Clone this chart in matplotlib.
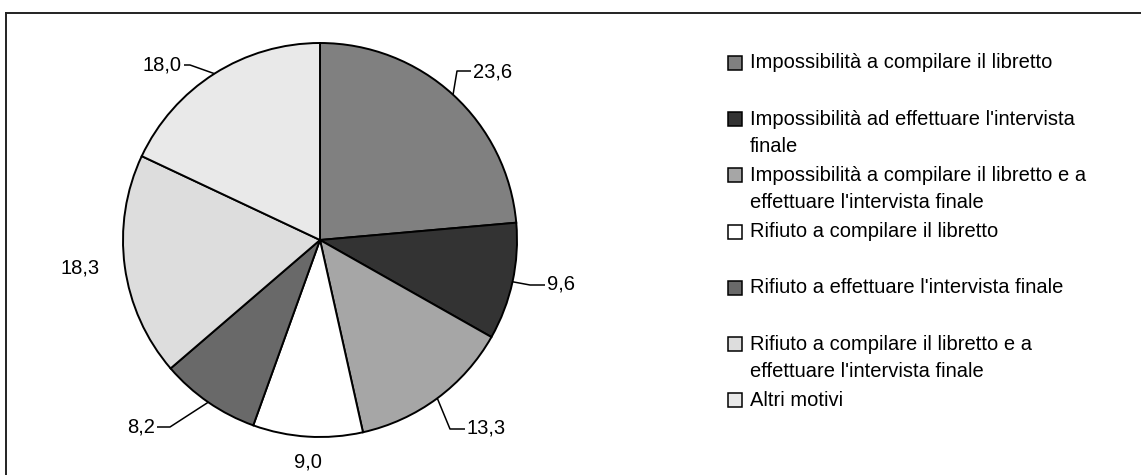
import numpy as np
import matplotlib
matplotlib.use("Agg")
import matplotlib.pyplot as plt
from matplotlib.patches import Rectangle
from matplotlib.lines import Line2D

# ---- data ----
categories = [
    "Impossibilità a compilare il libretto",
    "Impossibilità ad effettuare l'intervista\nfinale",
    "Impossibilità a compilare il libretto e a\neffettuare l'intervista finale",
    "Rifiuto a compilare il libretto",
    "Rifiuto a effettuare l'intervista finale",
    "Rifiuto a compilare il libretto e a\neffettuare l'intervista finale",
    "Altri motivi",
]
values = [23.6, 9.6, 13.3, 9.0, 8.2, 18.3, 18.0]
colors = ["#808080", "#333333", "#A6A6A6", "#FFFFFF", "#696969", "#DDDDDD", "#E9E9E9"]

# ---- layout (pixel space, y downwards) ----
W, H = 1141, 475
CX, CY, R = 320, 240, 197
# label text anchor (x, y, ha) and optional elbow point for the leader line
label_layout = [
    (473, 72, "left", (457, 71)),
    (547, 284, "left", (530, 285)),
    (467, 428, "left", (450, 429)),
    (308, 462, "center", None),
    (155, 427, "right", (170, 427)),
    (100, 268, "right", None),
    (182, 65, "right", (190, 65)),
]
FS = 14.5

plt.rcParams["font.family"] = ["Liberation Sans", "DejaVu Sans"]
fig = plt.figure(figsize=(W / 100, H / 100), dpi=100)
ax = fig.add_axes([0, 0, 1, 1])

def Y(y):
    return H - y

wedges, _ = ax.pie(values, colors=colors, startangle=90, counterclock=False,
                   center=(CX, Y(CY)), radius=R,
                   wedgeprops=dict(edgecolor="black", linewidth=1.4))
ax.set_xlim(0, W)
ax.set_ylim(0, H)
ax.set_aspect("equal")
ax.axis("off")

# data labels with leader lines
for w, v, (tx, ty, ha, elbow) in zip(wedges, values, label_layout):
    mid = np.deg2rad((w.theta1 + w.theta2) / 2)
    ex = CX + R * np.cos(mid)
    ey = Y(CY) + R * np.sin(mid)
    txt = f"{v:.1f}".replace(".", ",")
    ax.text(tx, Y(ty), txt, ha=ha, va="center", fontsize=FS, color="black")
    if elbow is not None:
        endx = tx - 2 if ha == "left" else tx + 2
        ax.plot([ex, elbow[0], endx], [ey, Y(elbow[1]), Y(elbow[1])],
                color="black", lw=1.1, solid_capstyle="butt")

# legend (manual, Excel-like equal slots)
LX_PATCH, LX_TEXT = 728, 750
ROW0, ROWSTEP, LINESTEP, PS = 63, 56.2, 27.5, 14
for i, (lab, c) in enumerate(zip(categories, colors)):
    yc = ROW0 + i * ROWSTEP
    ax.add_patch(Rectangle((LX_PATCH, Y(yc) - PS / 2), PS, PS, facecolor=c,
                           edgecolor="black", lw=1.1))
    for k, line in enumerate(lab.split("\n")):
        ax.text(LX_TEXT, Y(yc + k * LINESTEP), line, ha="left", va="center",
                fontsize=FS, color="black")

# chart-area frame (only top and left visible)
ax.add_line(Line2D([5.5, W], [Y(12.5), Y(12.5)], color="#222222", lw=1.4))
ax.add_line(Line2D([5.5, 5.5], [Y(12.5), 0], color="#222222", lw=1.4))

fig.savefig("out.png", dpi=100, facecolor="white")
